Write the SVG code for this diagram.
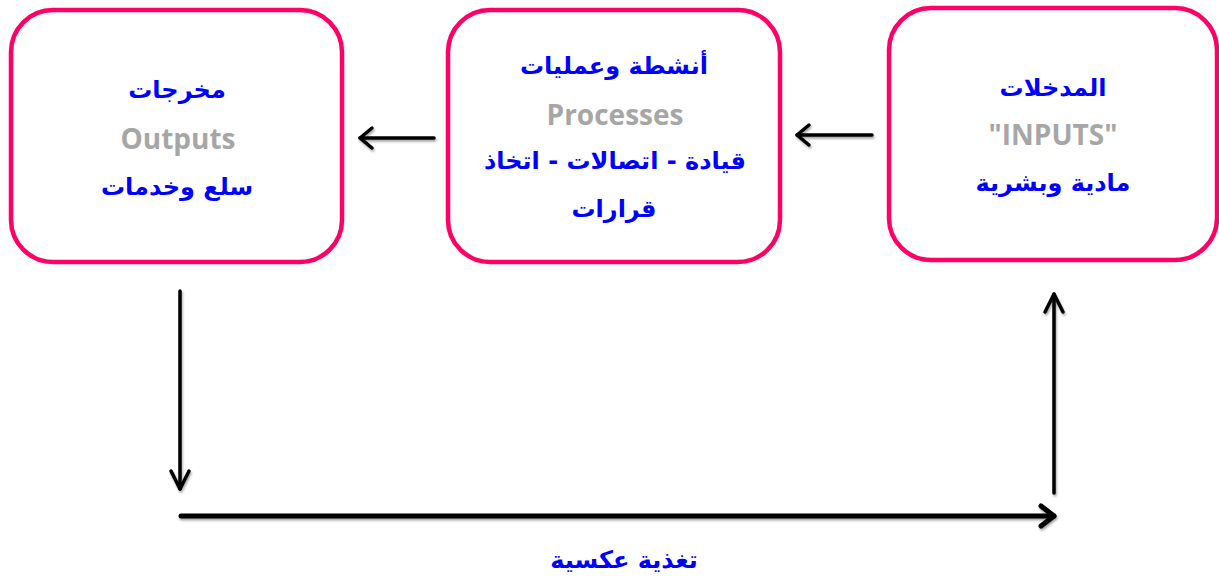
<svg xmlns="http://www.w3.org/2000/svg" width="1219" height="583" viewBox="0 0 1219 583">
<defs>
<style>
.box{fill:#fff;stroke:#FF0066;stroke-width:4.5}
.ar{font-family:"DejaVu Sans",sans-serif;font-weight:bold;font-size:24px;fill:#0000FF;text-anchor:middle}
.en{font-family:"Open Sans","Liberation Sans",sans-serif;font-weight:bold;font-size:28px;fill:#A6A6A6;text-anchor:middle}
.ln{stroke:#000;stroke-width:3.5;fill:none;stroke-linecap:round}
.hd{stroke:#000;stroke-width:3.5;fill:none;stroke-linecap:round;stroke-linejoin:round}
</style>
<filter id="sh" x="-20%" y="-20%" width="140%" height="140%">
<feDropShadow dx="1" dy="2" stdDeviation="1.2" flood-color="#000" flood-opacity="0.35"/>
</filter>
</defs>
<rect width="1219" height="583" fill="#fff"/>
<g id="outputs">
<rect class="box" x="11" y="10" width="331" height="252" rx="42"/>
<text class="ar" x="177" y="98" direction="rtl">مخرجات</text>
<text class="en" x="178" y="149">Outputs</text>
<text class="ar" x="177" y="195" direction="rtl">سلع وخدمات</text>
</g>
<g id="processes">
<rect class="box" x="448" y="10" width="332" height="252" rx="42"/>
<text class="ar" x="614" y="74" direction="rtl">أنشطة وعمليات</text>
<text class="en" x="615" y="125">Processes</text>
<text class="ar" x="615" y="169" direction="rtl">قيادة - اتصالات - اتخاذ</text>
<text class="ar" x="614" y="217" direction="rtl">قرارات</text>
</g>
<g id="inputs">
<rect class="box" x="889" y="8" width="328" height="252" rx="42"/>
<text class="ar" x="1053" y="96" direction="rtl">المدخلات</text>
<text class="en" x="1053" y="145">"INPUTS"</text>
<text class="ar" x="1053" y="191" direction="rtl">مادية وبشرية</text>
</g>
<g id="connectors" filter="url(#sh)">
<line class="ln" x1="434" y1="138" x2="360" y2="138"/>
<polyline class="hd" points="372,128 360,138 372,148"/>
<line class="ln" x1="872" y1="135" x2="797" y2="135"/>
<polyline class="hd" points="809,125 797,135 809,145"/>
<line class="ln" x1="180" y1="291" x2="180" y2="489"/>
<polyline class="hd" points="171,471 180,489 189,471"/>
<line class="ln" x1="181" y1="516" x2="1054" y2="516" style="stroke-width:5"/>
<polyline class="hd" points="1041,506 1054,516 1041,526" style="stroke-width:5"/>
<line class="ln" x1="1054" y1="493" x2="1054" y2="294"/>
<polyline class="hd" points="1045,312 1054,294 1063,312"/>
</g>
<g id="feedback-label">
<text class="ar" x="624" y="568" direction="rtl">تغذية عكسية</text>
</g>
</svg>
